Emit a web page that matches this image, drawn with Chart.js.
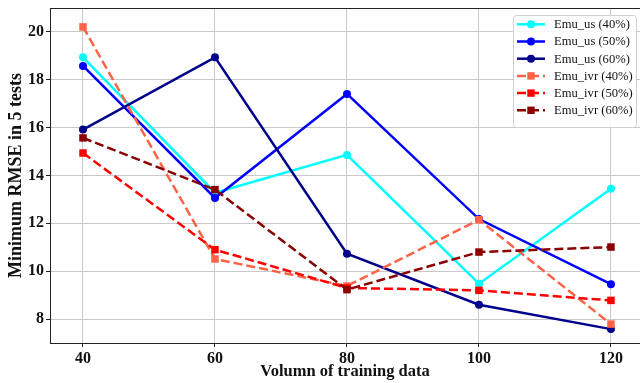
<!DOCTYPE html>
<html lang="en">
<head>
  <meta charset="UTF-8" />
  <title>Minimum RMSE vs training data</title>
  <script src="https://cdn.jsdelivr.net/npm/chart.js"></script>
  <style>
    body { margin: 0; background: #fff; overflow: hidden; }
    #wrap { width: 640px; height: 383px; }
  </style>
</head>
<body>
  <div id="wrap"><canvas id="rmseChart" width="640" height="383"></canvas></div>

  <script>
    // data
    const volumes = [40, 60, 80, 100, 120];
    const yTicks = [8, 10, 12, 14, 16, 18, 20];

    const emuUs40 = [18.94, 13.28, 14.86, 9.48, 13.45];
    const emuUs50 = [18.58, 13.06, 17.41, 12.18, 9.46];
    const emuUs60 = [15.92, 18.94, 10.73, 8.60, 7.58];
    const emuIvr40 = [20.21, 10.51, 9.38, 12.15, 7.79];
    const emuIvr50 = [14.94, 10.90, 9.30, 9.20, 8.78];
    const emuIvr60 = [15.57, 13.41, 9.23, 10.80, 11.01];

    const seriesNames = ['Emu_us (40%)', 'Emu_us (50%)', 'Emu_us (60%)',
                         'Emu_ivr (40%)', 'Emu_ivr (50%)', 'Emu_ivr (60%)'];
    const seriesValues = [emuUs40, emuUs50, emuUs60, emuIvr40, emuIvr50, emuIvr60];
    const colors = ['#00ffff', '#0000ff', '#00008b', '#ff6347', '#ff0000', '#8b0000'];

    const DASH = [9, 4];
    const serif = "'Liberation Serif', 'Times New Roman', serif";

    const datasets = seriesValues.map((vals, i) => {
      const dashed = i >= 3;
      return {
        label: seriesNames[i],
        data: vals.map((v, k) => ({ x: volumes[k], y: v })),
        borderColor: colors[i],
        backgroundColor: colors[i],
        borderWidth: 2.5,
        borderDash: dashed ? DASH : [],
        pointStyle: dashed ? 'rect' : 'circle',
        pointRadius: dashed ? 5.3 : 4,
        pointBorderWidth: 0,
        tension: 0,
        order: seriesValues.length - i   // later series on top, like the original
      };
    });

    // top spine (right one is cut off in the original)
    const frameTop = {
      id: 'frameTop',
      afterDatasetsDraw(chart) {
        const { ctx, chartArea } = chart;
        ctx.save();
        ctx.strokeStyle = '#222';
        ctx.lineWidth = 1;
        ctx.beginPath();
        ctx.moveTo(chartArea.left, chartArea.top + 0.5);
        ctx.lineTo(chartArea.right, chartArea.top + 0.5);
        ctx.stroke();
        ctx.restore();
      }
    };

    // matplotlib style legend: line + marker handle
    const mplLegend = {
      id: 'mplLegend',
      afterDraw(chart) {
        const { ctx } = chart;
        const x0 = 513, y0 = 15, w = 123, h = 112;
        ctx.save();
        ctx.beginPath();
        ctx.roundRect(x0 + 0.5, y0 + 0.5, w, h, 3);
        ctx.fillStyle = 'rgba(255,255,255,0.85)';
        ctx.fill();
        ctx.strokeStyle = '#d0d0d0';
        ctx.lineWidth = 1;
        ctx.stroke();

        chart.data.datasets.forEach((ds, i) => {
          const y = 24.3 + i * 17.2;
          ctx.strokeStyle = ds.borderColor;
          ctx.lineWidth = 2.5;
          ctx.setLineDash(ds.borderDash);
          ctx.beginPath();
          ctx.moveTo(517, y);
          ctx.lineTo(545, y);
          ctx.stroke();
          ctx.setLineDash([]);
          ctx.fillStyle = ds.borderColor;
          if (ds.pointStyle === 'rect') {
            ctx.fillRect(531 - 3.7, y - 3.7, 7.4, 7.4);
          } else {
            ctx.beginPath();
            ctx.arc(531, y, 4, 0, Math.PI * 2);
            ctx.fill();
          }
          ctx.fillStyle = '#111';
          ctx.font = '12.6px ' + serif;
          ctx.textBaseline = 'middle';
          ctx.textAlign = 'left';
          ctx.fillText(ds.label, 554, y + 0.5);
        });
        ctx.restore();
      }
    };

    new Chart(document.getElementById('rmseChart'), {
      type: 'line',
      data: { datasets },
      plugins: [frameTop, mplLegend],
      options: {
        responsive: false,
        devicePixelRatio: 1,
        animation: false,
        layout: { autoPadding: false, padding: { top: 8, right: 0, bottom: 0, left: 0 } },
        plugins: {
          legend: { display: false },
          tooltip: { enabled: false }
        },
        scales: {
          x: {
            type: 'linear',
            min: 35,
            max: 124.4,
            afterBuildTicks(scale) {
              scale.ticks = volumes.map(v => ({ value: v }));
            },
            afterFit(scale) {
              scale.height = 40;
              scale.paddingLeft = 0;
              scale.paddingRight = 0;
            },
            grid: { color: '#c8c8c8', lineWidth: 1, tickLength: 4, tickColor: '#222' },
            border: { color: '#222', width: 1 },
            ticks: {
              color: '#111',
              padding: 2,
              maxRotation: 0,
              font: { family: serif, size: 16, weight: 'bold' }
            },
            title: {
              display: true,
              text: 'Volumn of training data',
              color: '#111',
              padding: { top: 0, bottom: 1 },
              font: { family: serif, size: 16.5, weight: 'bold' }
            }
          },
          y: {
            min: 7,
            max: 21,
            afterBuildTicks(scale) {
              scale.ticks = yTicks.map(v => ({ value: v }));
            },
            afterFit(scale) {
              scale.width = 50;
              scale.paddingTop = 0;
              scale.paddingBottom = 0;
            },
            grid: { color: '#c8c8c8', lineWidth: 1, tickLength: 4, tickColor: '#222' },
            border: { color: '#222', width: 1 },
            ticks: {
              color: '#111',
              padding: 2,
              font: { family: serif, size: 16, weight: 'bold' }
            },
            title: {
              display: true,
              text: 'Minimum RMSE in 5 tests',
              color: '#111',
              padding: { top: 6, bottom: 0 },
              font: { family: serif, size: 18, weight: 'bold' }
            }
          }
        }
      }
    });
  </script>
</body>
</html>
